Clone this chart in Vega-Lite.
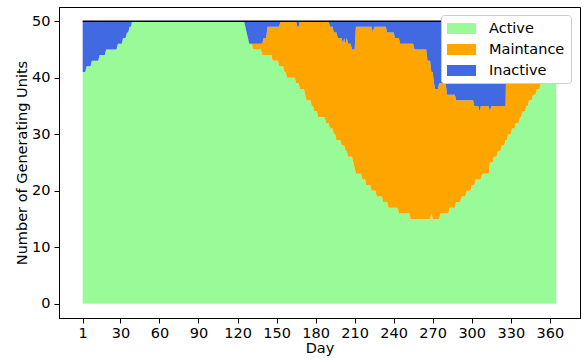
{
  "$schema": "https://vega.github.io/schema/vega-lite/v6.json",
  "width": 521,
  "height": 311,
  "autosize": {"type": "none"},
  "padding": {"left": 59, "top": 7, "right": 3, "bottom": 41},
  "config": {
    "font": "DejaVu Sans",
    "view": {"stroke": "#000000", "strokeWidth": 1},
    "axis": {
      "grid": false,
      "domainColor": "#000000",
      "tickColor": "#000000",
      "tickSize": 5,
      "labelFont": "DejaVu Sans",
      "labelFontSize": 14.5,
      "labelColor": "#000000",
      "labelPadding": 3,
      "titleFont": "DejaVu Sans",
      "titleFontSize": 14.5,
      "titleFontWeight": "normal",
      "titleColor": "#000000"
    }
  },
  "datasets": {
    "stackRank": [
      {"status": "Active", "rank": 0},
      {"status": "Maintance", "rank": 1},
      {"status": "Inactive", "rank": 2}
    ]
  },
  "data": {"values": [
{"day":1,"Active":41,"Maintance":0,"Inactive":9},{"day":2,"Active":41,"Maintance":0,"Inactive":9},{"day":3,"Active":41,"Maintance":0,"Inactive":9},
{"day":4,"Active":42,"Maintance":0,"Inactive":8},{"day":5,"Active":42,"Maintance":0,"Inactive":8},{"day":6,"Active":42,"Maintance":0,"Inactive":8},{"day":7,"Active":42,"Maintance":0,"Inactive":8},
{"day":8,"Active":43,"Maintance":0,"Inactive":7},{"day":9,"Active":43,"Maintance":0,"Inactive":7},{"day":10,"Active":43,"Maintance":0,"Inactive":7},{"day":11,"Active":43,"Maintance":0,"Inactive":7},{"day":12,"Active":43,"Maintance":0,"Inactive":7},{"day":13,"Active":43,"Maintance":0,"Inactive":7},
{"day":14,"Active":44,"Maintance":0,"Inactive":6},{"day":15,"Active":44,"Maintance":0,"Inactive":6},{"day":16,"Active":44,"Maintance":0,"Inactive":6},{"day":17,"Active":44,"Maintance":0,"Inactive":6},{"day":18,"Active":44,"Maintance":0,"Inactive":6},
{"day":19,"Active":45,"Maintance":0,"Inactive":5},{"day":20,"Active":45,"Maintance":0,"Inactive":5},{"day":21,"Active":45,"Maintance":0,"Inactive":5},{"day":22,"Active":45,"Maintance":0,"Inactive":5},{"day":23,"Active":45,"Maintance":0,"Inactive":5},{"day":24,"Active":45,"Maintance":0,"Inactive":5},{"day":25,"Active":45,"Maintance":0,"Inactive":5},{"day":26,"Active":45,"Maintance":0,"Inactive":5},{"day":27,"Active":45,"Maintance":0,"Inactive":5},
{"day":28,"Active":46,"Maintance":0,"Inactive":4},{"day":29,"Active":46,"Maintance":0,"Inactive":4},{"day":30,"Active":46,"Maintance":0,"Inactive":4},{"day":31,"Active":46,"Maintance":0,"Inactive":4},
{"day":32,"Active":47,"Maintance":0,"Inactive":3},{"day":33,"Active":47,"Maintance":0,"Inactive":3},{"day":34,"Active":47,"Maintance":0,"Inactive":3},
{"day":35,"Active":48,"Maintance":0,"Inactive":2},{"day":36,"Active":48,"Maintance":0,"Inactive":2},
{"day":37,"Active":49,"Maintance":0,"Inactive":1},{"day":38,"Active":49,"Maintance":0,"Inactive":1},
{"day":39,"Active":50,"Maintance":0,"Inactive":0},{"day":40,"Active":50,"Maintance":0,"Inactive":0},{"day":41,"Active":50,"Maintance":0,"Inactive":0},{"day":42,"Active":50,"Maintance":0,"Inactive":0},{"day":43,"Active":50,"Maintance":0,"Inactive":0},{"day":44,"Active":50,"Maintance":0,"Inactive":0},{"day":45,"Active":50,"Maintance":0,"Inactive":0},{"day":46,"Active":50,"Maintance":0,"Inactive":0},{"day":47,"Active":50,"Maintance":0,"Inactive":0},{"day":48,"Active":50,"Maintance":0,"Inactive":0},
{"day":49,"Active":50,"Maintance":0,"Inactive":0},{"day":50,"Active":50,"Maintance":0,"Inactive":0},{"day":51,"Active":50,"Maintance":0,"Inactive":0},{"day":52,"Active":50,"Maintance":0,"Inactive":0},{"day":53,"Active":50,"Maintance":0,"Inactive":0},{"day":54,"Active":50,"Maintance":0,"Inactive":0},{"day":55,"Active":50,"Maintance":0,"Inactive":0},{"day":56,"Active":50,"Maintance":0,"Inactive":0},{"day":57,"Active":50,"Maintance":0,"Inactive":0},{"day":58,"Active":50,"Maintance":0,"Inactive":0},
{"day":59,"Active":50,"Maintance":0,"Inactive":0},{"day":60,"Active":50,"Maintance":0,"Inactive":0},{"day":61,"Active":50,"Maintance":0,"Inactive":0},{"day":62,"Active":50,"Maintance":0,"Inactive":0},{"day":63,"Active":50,"Maintance":0,"Inactive":0},{"day":64,"Active":50,"Maintance":0,"Inactive":0},{"day":65,"Active":50,"Maintance":0,"Inactive":0},{"day":66,"Active":50,"Maintance":0,"Inactive":0},{"day":67,"Active":50,"Maintance":0,"Inactive":0},{"day":68,"Active":50,"Maintance":0,"Inactive":0},
{"day":69,"Active":50,"Maintance":0,"Inactive":0},{"day":70,"Active":50,"Maintance":0,"Inactive":0},{"day":71,"Active":50,"Maintance":0,"Inactive":0},{"day":72,"Active":50,"Maintance":0,"Inactive":0},{"day":73,"Active":50,"Maintance":0,"Inactive":0},{"day":74,"Active":50,"Maintance":0,"Inactive":0},{"day":75,"Active":50,"Maintance":0,"Inactive":0},{"day":76,"Active":50,"Maintance":0,"Inactive":0},{"day":77,"Active":50,"Maintance":0,"Inactive":0},{"day":78,"Active":50,"Maintance":0,"Inactive":0},
{"day":79,"Active":50,"Maintance":0,"Inactive":0},{"day":80,"Active":50,"Maintance":0,"Inactive":0},{"day":81,"Active":50,"Maintance":0,"Inactive":0},{"day":82,"Active":50,"Maintance":0,"Inactive":0},{"day":83,"Active":50,"Maintance":0,"Inactive":0},{"day":84,"Active":50,"Maintance":0,"Inactive":0},{"day":85,"Active":50,"Maintance":0,"Inactive":0},{"day":86,"Active":50,"Maintance":0,"Inactive":0},{"day":87,"Active":50,"Maintance":0,"Inactive":0},{"day":88,"Active":50,"Maintance":0,"Inactive":0},
{"day":89,"Active":50,"Maintance":0,"Inactive":0},{"day":90,"Active":50,"Maintance":0,"Inactive":0},{"day":91,"Active":50,"Maintance":0,"Inactive":0},{"day":92,"Active":50,"Maintance":0,"Inactive":0},{"day":93,"Active":50,"Maintance":0,"Inactive":0},{"day":94,"Active":50,"Maintance":0,"Inactive":0},{"day":95,"Active":50,"Maintance":0,"Inactive":0},{"day":96,"Active":50,"Maintance":0,"Inactive":0},{"day":97,"Active":50,"Maintance":0,"Inactive":0},{"day":98,"Active":50,"Maintance":0,"Inactive":0},
{"day":99,"Active":50,"Maintance":0,"Inactive":0},{"day":100,"Active":50,"Maintance":0,"Inactive":0},{"day":101,"Active":50,"Maintance":0,"Inactive":0},{"day":102,"Active":50,"Maintance":0,"Inactive":0},{"day":103,"Active":50,"Maintance":0,"Inactive":0},{"day":104,"Active":50,"Maintance":0,"Inactive":0},{"day":105,"Active":50,"Maintance":0,"Inactive":0},{"day":106,"Active":50,"Maintance":0,"Inactive":0},{"day":107,"Active":50,"Maintance":0,"Inactive":0},{"day":108,"Active":50,"Maintance":0,"Inactive":0},
{"day":109,"Active":50,"Maintance":0,"Inactive":0},{"day":110,"Active":50,"Maintance":0,"Inactive":0},{"day":111,"Active":50,"Maintance":0,"Inactive":0},{"day":112,"Active":50,"Maintance":0,"Inactive":0},{"day":113,"Active":50,"Maintance":0,"Inactive":0},{"day":114,"Active":50,"Maintance":0,"Inactive":0},{"day":115,"Active":50,"Maintance":0,"Inactive":0},{"day":116,"Active":50,"Maintance":0,"Inactive":0},{"day":117,"Active":50,"Maintance":0,"Inactive":0},{"day":118,"Active":50,"Maintance":0,"Inactive":0},
{"day":119,"Active":50,"Maintance":0,"Inactive":0},{"day":120,"Active":50,"Maintance":0,"Inactive":0},{"day":121,"Active":50,"Maintance":0,"Inactive":0},{"day":122,"Active":50,"Maintance":0,"Inactive":0},{"day":123,"Active":50,"Maintance":0,"Inactive":0},{"day":124,"Active":50,"Maintance":0,"Inactive":0},{"day":125,"Active":50,"Maintance":0,"Inactive":0},
{"day":126,"Active":49,"Maintance":0,"Inactive":1},{"day":127,"Active":48,"Maintance":0,"Inactive":2},{"day":128,"Active":47,"Maintance":0,"Inactive":3},
{"day":129,"Active":46,"Maintance":0,"Inactive":4},{"day":130,"Active":46,"Maintance":0,"Inactive":4},{"day":131,"Active":46,"Maintance":0,"Inactive":4},
{"day":132,"Active":45,"Maintance":1,"Inactive":4},{"day":133,"Active":45,"Maintance":1,"Inactive":4},{"day":134,"Active":45,"Maintance":1,"Inactive":4},{"day":135,"Active":45,"Maintance":1,"Inactive":4},{"day":136,"Active":45,"Maintance":1,"Inactive":4},{"day":137,"Active":45,"Maintance":1,"Inactive":4},{"day":138,"Active":45,"Maintance":1,"Inactive":4},
{"day":139,"Active":44,"Maintance":2,"Inactive":4},
{"day":140,"Active":44,"Maintance":3,"Inactive":3},{"day":141,"Active":44,"Maintance":3,"Inactive":3},{"day":142,"Active":44,"Maintance":3,"Inactive":3},
{"day":143,"Active":44,"Maintance":5,"Inactive":1},{"day":144,"Active":44,"Maintance":5,"Inactive":1},{"day":145,"Active":44,"Maintance":5,"Inactive":1},{"day":146,"Active":44,"Maintance":5,"Inactive":1},
{"day":147,"Active":43,"Maintance":6,"Inactive":1},{"day":148,"Active":43,"Maintance":6,"Inactive":1},{"day":149,"Active":43,"Maintance":6,"Inactive":1},{"day":150,"Active":43,"Maintance":6,"Inactive":1},{"day":151,"Active":43,"Maintance":6,"Inactive":1},
{"day":152,"Active":42,"Maintance":7,"Inactive":1},
{"day":153,"Active":42,"Maintance":8,"Inactive":0},{"day":154,"Active":42,"Maintance":8,"Inactive":0},{"day":155,"Active":42,"Maintance":8,"Inactive":0},
{"day":156,"Active":41,"Maintance":9,"Inactive":0},{"day":157,"Active":41,"Maintance":9,"Inactive":0},
{"day":158,"Active":40,"Maintance":10,"Inactive":0},{"day":159,"Active":40,"Maintance":10,"Inactive":0},{"day":160,"Active":40,"Maintance":10,"Inactive":0},{"day":161,"Active":40,"Maintance":10,"Inactive":0},{"day":162,"Active":40,"Maintance":10,"Inactive":0},{"day":163,"Active":40,"Maintance":10,"Inactive":0},{"day":164,"Active":40,"Maintance":10,"Inactive":0},
{"day":165,"Active":39,"Maintance":11,"Inactive":0},
{"day":166,"Active":39,"Maintance":10,"Inactive":1},{"day":167,"Active":39,"Maintance":10,"Inactive":1},
{"day":168,"Active":38,"Maintance":12,"Inactive":0},{"day":169,"Active":38,"Maintance":12,"Inactive":0},{"day":170,"Active":38,"Maintance":12,"Inactive":0},{"day":171,"Active":38,"Maintance":12,"Inactive":0},
{"day":172,"Active":37,"Maintance":13,"Inactive":0},
{"day":173,"Active":36,"Maintance":14,"Inactive":0},{"day":174,"Active":36,"Maintance":14,"Inactive":0},{"day":175,"Active":36,"Maintance":14,"Inactive":0},{"day":176,"Active":36,"Maintance":14,"Inactive":0},
{"day":177,"Active":35,"Maintance":15,"Inactive":0},{"day":178,"Active":35,"Maintance":15,"Inactive":0},
{"day":179,"Active":34,"Maintance":16,"Inactive":0},{"day":180,"Active":34,"Maintance":16,"Inactive":0},{"day":181,"Active":34,"Maintance":16,"Inactive":0},
{"day":182,"Active":33,"Maintance":17,"Inactive":0},{"day":183,"Active":33,"Maintance":17,"Inactive":0},{"day":184,"Active":33,"Maintance":17,"Inactive":0},{"day":185,"Active":33,"Maintance":17,"Inactive":0},{"day":186,"Active":33,"Maintance":17,"Inactive":0},{"day":187,"Active":33,"Maintance":17,"Inactive":0},
{"day":188,"Active":32,"Maintance":18,"Inactive":0},{"day":189,"Active":32,"Maintance":18,"Inactive":0},{"day":190,"Active":32,"Maintance":18,"Inactive":0},
{"day":191,"Active":31,"Maintance":18,"Inactive":1},{"day":192,"Active":31,"Maintance":18,"Inactive":1},{"day":193,"Active":31,"Maintance":18,"Inactive":1},
{"day":194,"Active":30,"Maintance":18,"Inactive":2},{"day":195,"Active":30,"Maintance":18,"Inactive":2},
{"day":196,"Active":29,"Maintance":19,"Inactive":2},
{"day":197,"Active":29,"Maintance":18,"Inactive":3},{"day":198,"Active":29,"Maintance":18,"Inactive":3},{"day":199,"Active":29,"Maintance":18,"Inactive":3},
{"day":200,"Active":28,"Maintance":19,"Inactive":3},{"day":201,"Active":28,"Maintance":18,"Inactive":4},{"day":202,"Active":28,"Maintance":19,"Inactive":3},
{"day":203,"Active":27,"Maintance":19,"Inactive":4},{"day":204,"Active":27,"Maintance":20,"Inactive":3},
{"day":205,"Active":26,"Maintance":20,"Inactive":4},{"day":206,"Active":26,"Maintance":20,"Inactive":4},{"day":207,"Active":26,"Maintance":20,"Inactive":4},{"day":208,"Active":26,"Maintance":19,"Inactive":5},
{"day":209,"Active":25,"Maintance":20,"Inactive":5},{"day":210,"Active":24,"Maintance":21,"Inactive":5},
{"day":211,"Active":23,"Maintance":26,"Inactive":1},{"day":212,"Active":23,"Maintance":26,"Inactive":1},{"day":213,"Active":23,"Maintance":26,"Inactive":1},{"day":214,"Active":23,"Maintance":26,"Inactive":1},{"day":215,"Active":23,"Maintance":26,"Inactive":1},
{"day":216,"Active":22,"Maintance":27,"Inactive":1},{"day":217,"Active":22,"Maintance":27,"Inactive":1},{"day":218,"Active":22,"Maintance":27,"Inactive":1},
{"day":219,"Active":21,"Maintance":28,"Inactive":1},{"day":220,"Active":21,"Maintance":28,"Inactive":1},{"day":221,"Active":21,"Maintance":28,"Inactive":1},{"day":222,"Active":21,"Maintance":28,"Inactive":1},
{"day":223,"Active":20,"Maintance":29,"Inactive":1},{"day":224,"Active":20,"Maintance":28,"Inactive":2},{"day":225,"Active":20,"Maintance":29,"Inactive":1},{"day":226,"Active":20,"Maintance":29,"Inactive":1},
{"day":227,"Active":19,"Maintance":30,"Inactive":1},{"day":228,"Active":19,"Maintance":30,"Inactive":1},{"day":229,"Active":19,"Maintance":30,"Inactive":1},{"day":230,"Active":19,"Maintance":30,"Inactive":1},{"day":231,"Active":19,"Maintance":30,"Inactive":1},
{"day":232,"Active":18,"Maintance":31,"Inactive":1},{"day":233,"Active":18,"Maintance":31,"Inactive":1},{"day":234,"Active":18,"Maintance":31,"Inactive":1},{"day":235,"Active":18,"Maintance":30,"Inactive":2},
{"day":236,"Active":17,"Maintance":31,"Inactive":2},{"day":237,"Active":17,"Maintance":31,"Inactive":2},{"day":238,"Active":17,"Maintance":31,"Inactive":2},{"day":239,"Active":17,"Maintance":31,"Inactive":2},{"day":240,"Active":17,"Maintance":31,"Inactive":2},
{"day":241,"Active":17,"Maintance":30,"Inactive":3},{"day":242,"Active":17,"Maintance":30,"Inactive":3},{"day":243,"Active":17,"Maintance":30,"Inactive":3},
{"day":244,"Active":16,"Maintance":31,"Inactive":3},
{"day":245,"Active":16,"Maintance":30,"Inactive":4},{"day":246,"Active":16,"Maintance":30,"Inactive":4},{"day":247,"Active":16,"Maintance":30,"Inactive":4},{"day":248,"Active":16,"Maintance":30,"Inactive":4},{"day":249,"Active":16,"Maintance":30,"Inactive":4},{"day":250,"Active":16,"Maintance":30,"Inactive":4},{"day":251,"Active":16,"Maintance":30,"Inactive":4},{"day":252,"Active":16,"Maintance":30,"Inactive":4},
{"day":253,"Active":15,"Maintance":31,"Inactive":4},{"day":254,"Active":15,"Maintance":31,"Inactive":4},{"day":255,"Active":15,"Maintance":31,"Inactive":4},
{"day":256,"Active":15,"Maintance":30,"Inactive":5},{"day":257,"Active":15,"Maintance":30,"Inactive":5},{"day":258,"Active":15,"Maintance":30,"Inactive":5},{"day":259,"Active":15,"Maintance":30,"Inactive":5},{"day":260,"Active":15,"Maintance":30,"Inactive":5},{"day":261,"Active":15,"Maintance":30,"Inactive":5},{"day":262,"Active":15,"Maintance":30,"Inactive":5},{"day":263,"Active":15,"Maintance":30,"Inactive":5},{"day":264,"Active":15,"Maintance":30,"Inactive":5},{"day":265,"Active":15,"Maintance":30,"Inactive":5},
{"day":266,"Active":15,"Maintance":28,"Inactive":7},{"day":267,"Active":15,"Maintance":28,"Inactive":7},{"day":268,"Active":15,"Maintance":28,"Inactive":7},
{"day":269,"Active":16,"Maintance":25,"Inactive":9},{"day":270,"Active":15,"Maintance":26,"Inactive":9},
{"day":271,"Active":15,"Maintance":24,"Inactive":11},
{"day":272,"Active":15,"Maintance":23,"Inactive":12},{"day":273,"Active":15,"Maintance":23,"Inactive":12},{"day":274,"Active":15,"Maintance":23,"Inactive":12},
{"day":275,"Active":15,"Maintance":24,"Inactive":11},
{"day":276,"Active":16,"Maintance":23,"Inactive":11},{"day":277,"Active":16,"Maintance":23,"Inactive":11},{"day":278,"Active":16,"Maintance":23,"Inactive":11},{"day":279,"Active":16,"Maintance":23,"Inactive":11},{"day":280,"Active":16,"Maintance":23,"Inactive":11},
{"day":281,"Active":16,"Maintance":21,"Inactive":13},{"day":282,"Active":16,"Maintance":21,"Inactive":13},
{"day":283,"Active":17,"Maintance":20,"Inactive":13},{"day":284,"Active":17,"Maintance":20,"Inactive":13},{"day":285,"Active":17,"Maintance":20,"Inactive":13},{"day":286,"Active":17,"Maintance":20,"Inactive":13},{"day":287,"Active":17,"Maintance":20,"Inactive":13},
{"day":288,"Active":18,"Maintance":18,"Inactive":14},{"day":289,"Active":18,"Maintance":18,"Inactive":14},{"day":290,"Active":18,"Maintance":18,"Inactive":14},{"day":291,"Active":18,"Maintance":18,"Inactive":14},
{"day":292,"Active":19,"Maintance":17,"Inactive":14},{"day":293,"Active":19,"Maintance":17,"Inactive":14},{"day":294,"Active":19,"Maintance":17,"Inactive":14},{"day":295,"Active":19,"Maintance":17,"Inactive":14},
{"day":296,"Active":20,"Maintance":16,"Inactive":14},{"day":297,"Active":20,"Maintance":16,"Inactive":14},{"day":298,"Active":20,"Maintance":16,"Inactive":14},{"day":299,"Active":20,"Maintance":16,"Inactive":14},
{"day":300,"Active":21,"Maintance":15,"Inactive":14},{"day":301,"Active":21,"Maintance":15,"Inactive":14},{"day":302,"Active":21,"Maintance":14,"Inactive":15},
{"day":303,"Active":22,"Maintance":13,"Inactive":15},{"day":304,"Active":22,"Maintance":13,"Inactive":15},{"day":305,"Active":22,"Maintance":13,"Inactive":15},{"day":306,"Active":22,"Maintance":12,"Inactive":16},{"day":307,"Active":22,"Maintance":13,"Inactive":15},
{"day":308,"Active":23,"Maintance":12,"Inactive":15},{"day":309,"Active":23,"Maintance":12,"Inactive":15},{"day":310,"Active":23,"Maintance":12,"Inactive":15},{"day":311,"Active":23,"Maintance":12,"Inactive":15},{"day":312,"Active":23,"Maintance":12,"Inactive":15},{"day":313,"Active":23,"Maintance":12,"Inactive":15},
{"day":314,"Active":25,"Maintance":9,"Inactive":16},{"day":315,"Active":25,"Maintance":10,"Inactive":15},{"day":316,"Active":25,"Maintance":10,"Inactive":15},
{"day":317,"Active":26,"Maintance":9,"Inactive":15},{"day":318,"Active":26,"Maintance":9,"Inactive":15},{"day":319,"Active":26,"Maintance":9,"Inactive":15},
{"day":320,"Active":27,"Maintance":8,"Inactive":15},{"day":321,"Active":27,"Maintance":8,"Inactive":15},{"day":322,"Active":27,"Maintance":8,"Inactive":15},
{"day":323,"Active":28,"Maintance":7,"Inactive":15},{"day":324,"Active":28,"Maintance":7,"Inactive":15},{"day":325,"Active":28,"Maintance":7,"Inactive":15},
{"day":326,"Active":29,"Maintance":6,"Inactive":15},{"day":327,"Active":29,"Maintance":21,"Inactive":0},
{"day":328,"Active":30,"Maintance":20,"Inactive":0},{"day":329,"Active":30,"Maintance":20,"Inactive":0},{"day":330,"Active":30,"Maintance":20,"Inactive":0},
{"day":331,"Active":31,"Maintance":19,"Inactive":0},{"day":332,"Active":31,"Maintance":19,"Inactive":0},{"day":333,"Active":31,"Maintance":19,"Inactive":0},
{"day":334,"Active":32,"Maintance":18,"Inactive":0},{"day":335,"Active":32,"Maintance":18,"Inactive":0},{"day":336,"Active":32,"Maintance":18,"Inactive":0},
{"day":337,"Active":33,"Maintance":17,"Inactive":0},{"day":338,"Active":33,"Maintance":17,"Inactive":0},
{"day":339,"Active":34,"Maintance":16,"Inactive":0},{"day":340,"Active":34,"Maintance":16,"Inactive":0},{"day":341,"Active":34,"Maintance":16,"Inactive":0},
{"day":342,"Active":35,"Maintance":15,"Inactive":0},{"day":343,"Active":35,"Maintance":15,"Inactive":0},
{"day":344,"Active":36,"Maintance":14,"Inactive":0},{"day":345,"Active":36,"Maintance":14,"Inactive":0},{"day":346,"Active":36,"Maintance":14,"Inactive":0},
{"day":347,"Active":37,"Maintance":13,"Inactive":0},{"day":348,"Active":37,"Maintance":13,"Inactive":0},{"day":349,"Active":37,"Maintance":13,"Inactive":0},
{"day":350,"Active":38,"Maintance":12,"Inactive":0},{"day":351,"Active":38,"Maintance":12,"Inactive":0},{"day":352,"Active":38,"Maintance":12,"Inactive":0},
{"day":353,"Active":39,"Maintance":11,"Inactive":0},{"day":354,"Active":39,"Maintance":11,"Inactive":0},{"day":355,"Active":39,"Maintance":11,"Inactive":0},{"day":356,"Active":39,"Maintance":11,"Inactive":0},{"day":357,"Active":39,"Maintance":11,"Inactive":0},{"day":358,"Active":39,"Maintance":11,"Inactive":0},{"day":359,"Active":39,"Maintance":11,"Inactive":0},{"day":360,"Active":39,"Maintance":11,"Inactive":0},{"day":361,"Active":39,"Maintance":11,"Inactive":0},{"day":362,"Active":39,"Maintance":11,"Inactive":0},{"day":363,"Active":39,"Maintance":11,"Inactive":0},{"day":364,"Active":39,"Maintance":11,"Inactive":0},{"day":365,"Active":39,"Maintance":11,"Inactive":0}
  ]},
  "layer": [
    {
      "transform": [
        {"fold": ["Active", "Maintance", "Inactive"], "as": ["status", "units"]},
        {"lookup": "status", "from": {"data": {"name": "stackRank"}, "key": "status", "fields": ["rank"]}}
      ],
      "mark": {"type": "area", "interpolate": "linear", "opacity": 1},
      "encoding": {
        "x": {
          "field": "day", "type": "quantitative",
          "scale": {"domain": [-17.2, 383.2], "nice": false, "zero": false},
          "axis": {"values": [1, 30, 60, 90, 120, 150, 180, 210, 240, 270, 300, 330, 360], "title": "Day", "titlePadding": 2}
        },
        "y": {
          "field": "units", "type": "quantitative", "stack": "zero",
          "scale": {"domain": [-2.5, 52.5], "nice": false},
          "axis": {"values": [0, 10, 20, 30, 40, 50], "title": "Number of Generating Units", "labelPadding": 4, "titlePadding": 2}
        },
        "order": {"field": "rank", "type": "quantitative", "sort": "ascending"},
        "color": {
          "field": "status", "type": "nominal",
          "scale": {"domain": ["Active", "Maintance", "Inactive"], "range": ["#98fb98", "#ffa500", "#4169e1"]},
          "legend": {
            "title": null,
            "orient": "none",
            "legendX": 382,
            "legendY": 8,
            "symbolType": "M-1,-0.733H2.867V0.733H-1Z",
            "symbolSize": 225,
            "symbolStrokeWidth": 0,
            "symbolOpacity": 1,
            "labelFont": "DejaVu Sans",
            "labelFontSize": 14.5,
            "labelColor": "#000000",
            "labelOffset": 27,
            "rowPadding": 6,
            "padding": 6,
            "fillColor": "#ffffff",
            "strokeColor": "#cccccc",
            "cornerRadius": 3
          }
        }
      }
    },
    {
      "mark": {"type": "line", "color": "#000000", "strokeWidth": 1.5},
      "encoding": {
        "x": {"field": "day", "type": "quantitative"},
        "y": {"datum": 50}
      }
    }
  ]
}
